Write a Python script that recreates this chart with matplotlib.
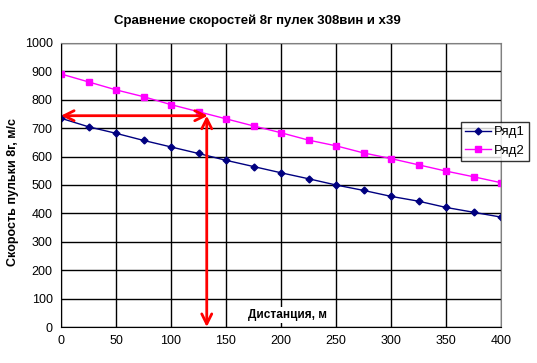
import matplotlib
matplotlib.use('Agg')
import matplotlib.pyplot as plt

# distance, m
dist = [0, 25, 50, 75, 100, 125, 150, 175, 200, 225, 250, 275, 300, 325, 350, 375, 400]
# velocities, m/s
ryad1 = [735, 705, 682, 657, 634, 611, 587, 565, 543, 522, 500, 481, 460, 443, 421, 404, 387]
ryad2 = [891, 863, 835, 811, 783, 758, 733, 708, 684, 658, 638, 613, 593, 571, 549, 529, 508]
labels = ['Ряд1', 'Ряд2']

# red arrows (reading point)
arrow_v = 744
arrow_x = 132.5

fig = plt.figure(figsize=(5.37, 3.63), dpi=100)
ax = fig.add_axes([61 / 537, 1 - 327 / 363, 440 / 537, 284 / 363])

ax.plot(dist, ryad1, color='#000080', marker='D', markersize=3.5, lw=1, label=labels[0])
ax.plot(dist, ryad2, color='#ff00ff', marker='s', markersize=4.5, lw=1, label=labels[1])

ax.set_xlim(0, 400)
ax.set_ylim(0, 1000)
ax.set_xticks(range(0, 401, 50))
ax.set_yticks(range(0, 1001, 100))
ax.grid(True, color='black', lw=1)
ax.set_axisbelow(True)
for s in ['top', 'right']:
    ax.spines[s].set_color('#808080')
ax.tick_params(labelsize=9, length=0, pad=6)
for t in ax.get_xticklabels() + ax.get_yticklabels():
    t.set_family('Liberation Sans')

arrow_kw = dict(arrowstyle='<->', color='red', lw=2, mutation_scale=18, shrinkA=0, shrinkB=0)
ax.annotate('', xy=(0, arrow_v), xytext=(arrow_x + 1, arrow_v), arrowprops=arrow_kw)
ax.annotate('', xy=(arrow_x, 0), xytext=(arrow_x, arrow_v), arrowprops=arrow_kw)

ax.text(206, 42, 'Дистанция, м', family='Liberation Sans', weight='bold', fontsize=8.5,
        ha='center', va='center', zorder=1,
        bbox=dict(facecolor='white', edgecolor='none', pad=1.5))
fig.text(13 / 537, 1 - 192 / 363, 'Скорость пульки 8г, м/с', family='Liberation Sans',
         weight='bold', fontsize=9, rotation=90, ha='center', va='center')
fig.text(257 / 537, 1 - 21 / 363, 'Сравнение скоростей 8г пулек 308вин и х39',
         family='Liberation Sans', weight='bold', fontsize=9.5, ha='center', va='center')

leg = fig.legend(loc='upper left', bbox_to_anchor=(461 / 537, 1 - 122 / 363),
                 prop={'family': 'Liberation Sans', 'size': 9.5}, frameon=True, fancybox=False,
                 handlelength=2.0, borderpad=0.3, labelspacing=0.5, handletextpad=0.2,
                 borderaxespad=0)
leg.get_frame().set_edgecolor('black')
leg.get_frame().set_linewidth(1)

fig.savefig('out.png', dpi=100)
